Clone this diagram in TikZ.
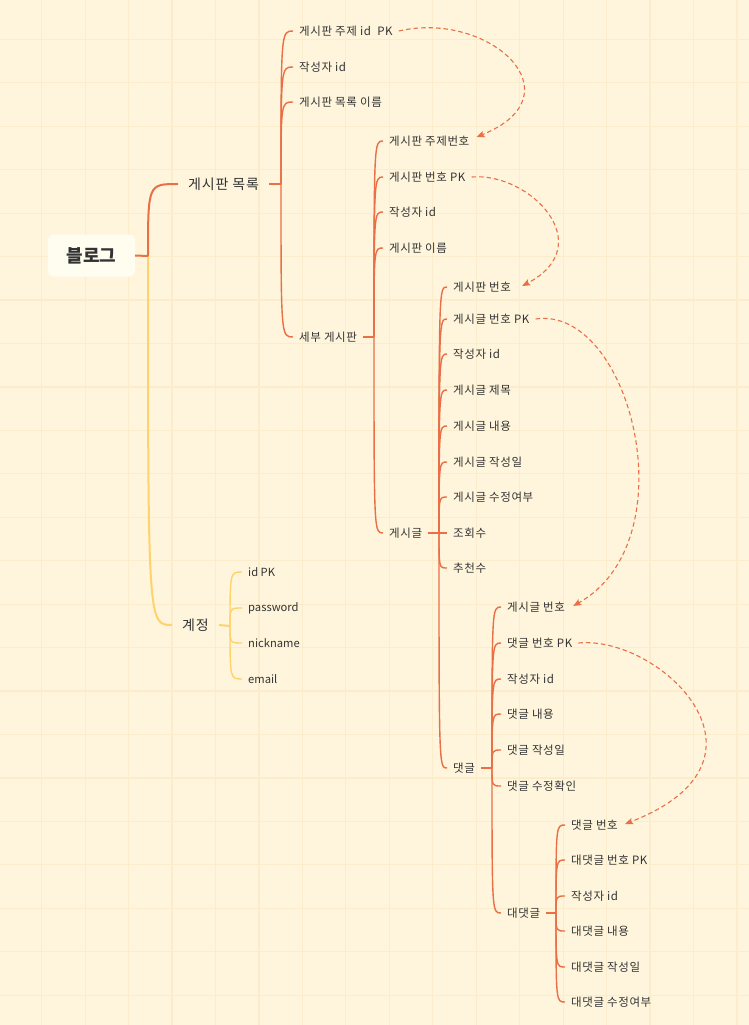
\documentclass[tikz,border=0pt]{standalone}
\usepackage{fontspec}
\setmainfont{Noto Sans CJK KR}
\usetikzlibrary{arrows.meta,calc}
\definecolor{bgc}{HTML}{FEF5DC}
\definecolor{gridc}{HTML}{FBEDCB}
\definecolor{boxc}{HTML}{FFFCF0}
\definecolor{orc}{HTML}{EA6F47}
\definecolor{yec}{HTML}{FFD36C}
\definecolor{txt}{HTML}{333333}
\begin{document}
\begin{tikzpicture}[x=1pt,y=-1pt,
  lbl/.style={font=\fontsize{11.5}{13}\selectfont\addfontfeatures{LetterSpace=5}, text=txt, inner xsep=6pt, inner ysep=2pt, anchor=west},
  latlbl/.style={font=\fontsize{11.2}{13}\selectfont, text=txt, inner xsep=6pt, inner ysep=2pt, anchor=west},
  toplbl/.style={font=\fontsize{14}{16}\selectfont\addfontfeatures{LetterSpace=6}, text=txt, inner xsep=10pt, inner ysep=2pt, anchor=west},
  rootbox/.style={fill=boxc, rounded corners=5pt, minimum width=87pt, minimum height=42pt, inner sep=0pt, text=txt, font=\bfseries\fontsize{18}{20}\selectfont},
  gridline/.style={draw=gridc, line width=1.2pt},
  obranch/.style={draw=orc, line width=1.4pt},
  ostub/.style={draw=orc, line width=2pt},
  ybranch/.style={draw=yec, line width=1.4pt},
  ystub/.style={draw=yec, line width=2pt},
  link/.style={draw=orc, line width=1.1pt, dash pattern=on 4.5pt off 3pt, -{Stealth[length=8pt,width=6.5pt,inset=1.5pt]}}
]
\useasboundingbox (0,0) rectangle (749,1025);
\fill[bgc] (0,0) rectangle (749,1025);
\foreach \i in {0,...,16} {\draw[gridline] ({41.7+43.45*\i},0) -- ({41.7+43.45*\i},1025);}
\foreach \i in {0,...,23} {\draw[gridline] (0,{39.3+43.45*\i}) -- (749,{39.3+43.45*\i});}

% root
\node[rootbox] (root) at (91.5,255.5) {블로그};
\node[toplbl] (n1) at (178,184) {게시판 목록};
\node[toplbl] (n2) at (172,625) {계정};

% level 2
\node[lbl] (a1) at (293,31) {게시판 주제 id\ \ PK};
\node[lbl] (a2) at (293,67) {작성자 id};
\node[lbl] (a3) at (293,102) {게시판 목록 이름};
\node[lbl] (s) at (293,337) {세부 게시판};

\node[lbl] (b1) at (383,141) {게시판 주제번호};
\node[lbl] (b2) at (383,177) {게시판 번호 PK};
\node[lbl] (b3) at (383,212) {작성자 id};
\node[lbl] (b4) at (383,248) {게시판 이름};
\node[lbl] (g) at (383,533) {게시글};

\node[lbl] (c1) at (447,287) {게시판 번호};
\node[lbl] (c2) at (447,319) {게시글 번호 PK};
\node[lbl] (c3) at (447,354) {작성자 id};
\node[lbl] (c4) at (447,390) {게시글 제목};
\node[lbl] (c5) at (447,426) {게시글 내용};
\node[lbl] (c6) at (447,462) {게시글 작성일};
\node[lbl] (c7) at (447,497) {게시글 수정여부};
\node[lbl] (c8) at (447,533) {조회수};
\node[lbl] (c9) at (447,568) {추천수};
\node[lbl] (d) at (447,768) {댓글};

\node[lbl] (e1) at (501,607) {게시글 번호};
\node[lbl] (e2) at (501,643) {댓글 번호 PK};
\node[lbl] (e3) at (501,679) {작성자 id};
\node[lbl] (e4) at (501,714) {댓글 내용};
\node[lbl] (e5) at (501,750) {댓글 작성일};
\node[lbl] (e6) at (501,786) {댓글 수정확인};
\node[lbl] (f) at (501,913) {대댓글};

\node[lbl] (f1) at (565,825) {댓글 번호};
\node[lbl] (f2) at (565,860) {대댓글 번호 PK};
\node[lbl] (f3) at (565,896) {작성자 id};
\node[lbl] (f4) at (565,931) {대댓글 내용};
\node[lbl] (f5) at (565,967) {대댓글 작성일};
\node[lbl] (f6) at (565,1002) {대댓글 수정여부};

\node[latlbl] (k1) at (242,572) {id PK};
\node[latlbl] (k2) at (242,608) {password};
\node[latlbl] (k3) at (242,643) {nickname};
\node[latlbl] (k4) at (242,679) {email};

% branch points
\coordinate (R) at (148,256);
\coordinate (B1) at (281,184);
\coordinate (B2) at (230,626);
\coordinate (B3) at (374,337);
\coordinate (B4) at (439,533);
\coordinate (B5) at (492,768);
\coordinate (B6) at (556,913);

% root connectors
\draw[ystub] (R) .. controls (R |- n2.west) .. (n2.west);
\draw[ostub] (root.east) -- (R);
\draw[ostub] (R) .. controls (R |- n1.west) .. (n1.west);

% stubs
\draw[ostub] (n1.east) -- (B1);
\draw[ystub] (n2.east) -- (B2);
\draw[ostub] (s.east) -- (B3);
\draw[ostub] (g.east) -- (B4);
\draw[ostub] (d.east) -- (B5);
\draw[ostub] (f.east) -- (B6);

% tree branches
\foreach \c in {a1,a2,a3,s} {\draw[obranch] (B1) .. controls (B1 |- \c.west) and (B1 |- \c.west) .. (\c.west);}
\foreach \c in {b1,b2,b3,b4,g} {\draw[obranch] (B3) .. controls (B3 |- \c.west) and (B3 |- \c.west) .. (\c.west);}
\foreach \c in {c1,c2,c3,c4,c5,c6,c7,c8,c9,d} {\draw[obranch] (B4) .. controls (B4 |- \c.west) and (B4 |- \c.west) .. (\c.west);}
\foreach \c in {e1,e2,e3,e4,e5,e6,f} {\draw[obranch] (B5) .. controls (B5 |- \c.west) and (B5 |- \c.west) .. (\c.west);}
\foreach \c in {f1,f2,f3,f4,f5,f6} {\draw[obranch] (B6) .. controls (B6 |- \c.west) and (B6 |- \c.west) .. (\c.west);}
\foreach \c in {k1,k2,k3,k4} {\draw[ybranch] (B2) .. controls (B2 |- \c.west) and (B2 |- \c.west) .. (\c.west);}

% key links
\draw[link] (a1.east) .. controls (490,10) and (580,95) .. ($(b1.east)+(1,-4)$);
\draw[link] (b2.east) .. controls (530,172) and (600,245) .. ($(c1.east)+(5,-1)$);
\draw[link] (c2.east) .. controls (630,305) and (690,540) .. ($(e1.east)+(2,-1)$);
\draw[link] (e2.east) .. controls (660,635) and (790,760) .. ($(f1.east)+(1,-1)$);
\end{tikzpicture}
\end{document}
